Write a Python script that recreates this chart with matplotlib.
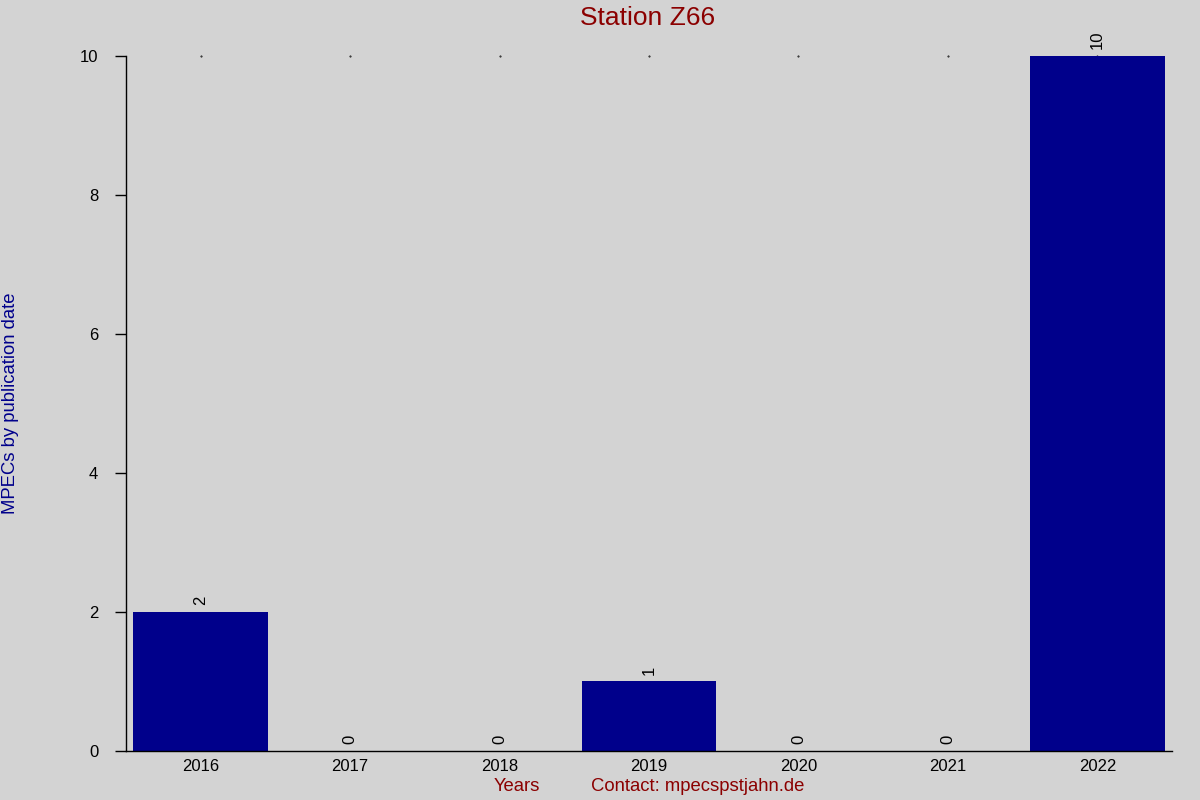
import matplotlib
matplotlib.use("Agg")
import matplotlib.pyplot as plt

years = ["2016", "2017", "2018", "2019", "2020", "2021", "2022"]
counts = [2, 0, 0, 1, 0, 0, 10]
yticks = [0, 2, 4, 6, 8, 10]

plt.rcParams['font.family'] = ['Liberation Sans', 'DejaVu Sans']
bg = '#d3d3d3'
fig = plt.figure(figsize=(12, 8), dpi=100, facecolor=bg)
ax = fig.add_axes([0.105, 0.0613, 0.8717, 0.8687], facecolor=bg)

x = list(range(len(years)))
ax.scatter(x, [10] * len(x), s=0.2, color='black', zorder=1, clip_on=False)
ax.bar(x, counts, width=0.9, color='#00008b', zorder=2)
for xi, c in zip(x, counts):
    ax.text(xi, c + 0.1, str(c), rotation=90, ha='center', va='bottom', fontsize=12, color='black')

ax.set_xlim(-0.5, 6.5)
ax.set_ylim(0, 10)
ax.set_xticks(x)
ax.set_xticklabels(years, fontsize=12)
ax.set_yticks(yticks)
ax.set_yticklabels([str(v) for v in yticks], fontsize=12)
ax.tick_params(axis='x', length=0, pad=6)
ax.tick_params(axis='y', length=8, width=1, pad=12)
for s in ['top', 'right']:
    ax.spines[s].set_visible(False)
ax.spines['left'].set_linewidth(1)
ax.spines['bottom'].set_linewidth(1)

fig.text(0.54, 0.977, "Station Z66", ha='center', va='center', fontsize=19, color='#8b0000')
fig.text(0.009, 0.496, "MPECs by publication date", rotation=90, ha='center', va='center', fontsize=13.3, color='#00008b')
fig.text(0.431, 0.017, "Years", ha='center', va='center', fontsize=13.3, color='#8b0000')
fig.text(0.581, 0.017, "Contact: mpecspstjahn.de", ha='center', va='center', fontsize=13.3, color='#8b0000')

fig.savefig("out.png", dpi=100, facecolor=bg)
